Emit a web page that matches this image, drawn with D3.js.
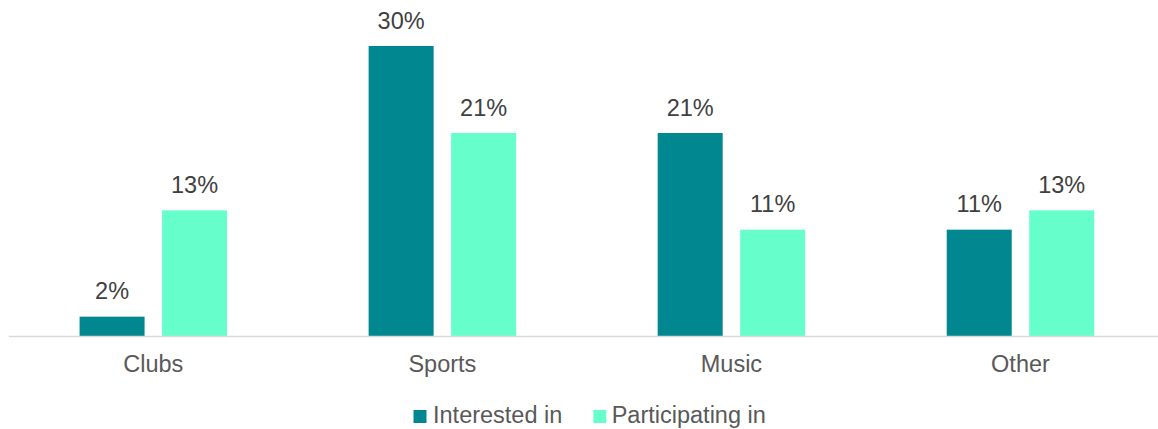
<!DOCTYPE html>
<html>
<head>
<meta charset="utf-8">
<script src="https://cdn.jsdelivr.net/npm/d3@7"></script>
<style>
  html, body { margin: 0; padding: 0; background: #fff; }
  svg { display: block; font-family: "Liberation Sans", Arial, sans-serif; }
</style>
</head>
<body>
<svg id="chart" width="1158" height="429"></svg>
<script>
// Activity categories and the two survey series (percent of respondents)
const categories = ["Clubs", "Sports", "Music", "Other"];
const seriesNames = ["Interested in", "Participating in"];
const interested = [2, 30, 21, 11];
const participating = [13, 21, 11, 13];
const seriesColors = ["#00878F", "#66FFCC"];

const rows = categories.map((c, i) => ({ category: c, values: [interested[i], participating[i]] }));

const svg = d3.select("#chart");
const W = 1158, H = 429;
const baseY = 336, topY = 46;
const x0Left = 8.8, x0Right = 1165;
const fontSize = 23.5;

const x0 = d3.scaleBand().domain(categories).range([x0Left, x0Right]).paddingInner(0).paddingOuter(0);
const groupW = 147.5;
const x1 = d3.scaleBand().domain(seriesNames).range([0, groupW]).paddingInner(0.212).paddingOuter(0);
const y = d3.scaleLinear().domain([0, 30]).range([baseY, topY]);

// Bars
const groups = svg.append("g").selectAll("g").data(rows).join("g")
  .attr("transform", d => `translate(${x0(d.category) + (x0.bandwidth() - groupW) / 2},0)`);

groups.selectAll("rect")
  .data(d => d.values.map((v, k) => ({ key: seriesNames[k], value: v, k })))
  .join("rect")
  .attr("x", d => x1(d.key))
  .attr("width", x1.bandwidth())
  .attr("y", d => y(d.value))
  .attr("height", d => baseY - y(d.value))
  .attr("fill", d => seriesColors[d.k]);

// Value labels
groups.selectAll("text")
  .data(d => d.values.map((v, k) => ({ key: seriesNames[k], value: v })))
  .join("text")
  .attr("x", d => x1(d.key) + x1.bandwidth() / 2)
  .attr("y", d => y(d.value) - 17.4)
  .attr("text-anchor", "middle")
  .attr("font-size", fontSize)
  .attr("fill", "#404040")
  .text(d => d.value + "%");

// Category axis
const xAxis = svg.append("g").attr("transform", `translate(0,${baseY})`)
  .call(d3.axisBottom(x0).tickSize(0).tickPadding(0));
xAxis.select(".domain").attr("stroke", "#D9D9D9").attr("stroke-width", 1.5)
  .attr("d", `M${x0Left},0.5H${W}`);
xAxis.selectAll("text")
  .attr("dy", null)
  .attr("y", 36)
  .attr("font-size", fontSize)
  .attr("font-family", "Liberation Sans, Arial, sans-serif")
  .attr("fill", "#595959");

// Legend
const legendItems = [
  { name: seriesNames[0], sx: 413.5, tx: 433 },
  { name: seriesNames[1], sx: 593.3, tx: 611.7 }
];
const legend = svg.append("g");
legend.selectAll("rect").data(legendItems).join("rect")
  .attr("x", d => d.sx).attr("y", 410).attr("width", 13).attr("height", 13)
  .attr("fill", (d, i) => seriesColors[i]);
legend.selectAll("text").data(legendItems).join("text")
  .attr("x", d => d.tx).attr("y", 423.3)
  .attr("font-size", fontSize)
  .attr("fill", "#595959")
  .text(d => d.name);
</script>
</body>
</html>
